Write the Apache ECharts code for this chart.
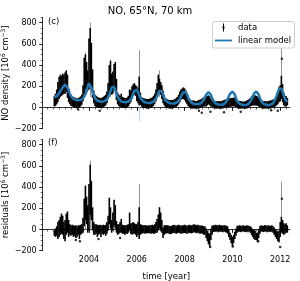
<!DOCTYPE html>
<html><head><meta charset="utf-8">
<script src="https://cdn.jsdelivr.net/npm/echarts@6/dist/echarts.min.js"></script>
<style>html,body{margin:0;padding:0;background:#fff}#c{width:300px;height:281px}</style>
</head><body><div id="c"></div>
<script>
// sampling grid: 2002.55 .. 2012.30, every 0.05 year
const T0 = 2002.55, STEP = 0.05;

// linear model [10^6 cm^-3]
const model = [
  95,100,108,118,132,150,170,190,205,
  215,210,190,160,130,108,92,82,76,72,70,68,68,70,75,85,100,125,160,200,
  228,218,188,150,115,90,75,65,60,57,55,55,56,60,66,76,92,118,155,190,
  208,195,165,130,100,80,66,58,54,51,50,50,52,56,63,76,98,128,155,172,
  168,150,120,95,75,62,54,49,46,44,43,43,45,49,55,65,82,105,132,158,
  165,152,122,92,70,57,49,44,41,39,38,38,40,44,50,62,80,102,126,145,
  150,145,125,95,70,52,42,37,34,32,31,31,32,35,42,55,75,98,120,138,
  145,140,120,90,65,47,37,32,29,27,26,26,28,32,40,55,78,105,128,145,
  150,145,122,90,62,44,35,30,27,25,24,24,26,30,38,53,76,104,130,148,
  152,145,122,90,62,44,35,30,27,25,24,25,27,32,40,55,80,112,145,172,
  188,180,150,110,80,62,52
];

// NO density data: spread of the data cloud (low / high)
const dataLo = [
  10,15,30,50,80,100,110,120,130,
  130,150,90,50,30,15,10,5,0,-5,-10,-5,0,10,25,60,120,170,140,160,
  170,210,170,90,40,15,5,0,-5,-5,-5,0,0,10,20,40,80,130,160,120,
  130,170,160,70,30,15,5,0,0,-5,-5,0,0,10,30,50,80,110,120,110,
  60,40,20,25,10,0,-5,-5,-10,-10,-10,-5,-5,5,15,35,60,100,140,150,
  120,80,40,20,5,0,-5,-10,-10,-10,-10,-5,0,5,15,30,50,70,80,80,
  70,50,30,15,5,-5,-10,-10,-10,-10,-10,-10,-10,-5,0,5,10,10,10,20,
  30,20,10,5,0,-10,-10,-10,-10,-10,-10,-10,-10,-5,0,5,5,5,5,10,
  10,10,10,5,0,-10,-10,-10,-10,-10,-10,-10,-10,-5,5,10,15,20,20,20,
  20,15,10,5,0,-10,-10,-10,-10,-10,-10,-10,-10,-5,0,5,10,20,30,50,
  60,80,50,20,10,10,20
];
const dataHi = [
  110,130,170,240,290,310,300,320,310,
  330,350,310,180,130,110,105,100,95,90,85,90,95,105,120,210,470,500,430,350,
  650,750,610,360,160,120,110,100,95,90,90,95,100,110,120,150,230,400,440,320,
  340,410,430,270,140,120,110,130,100,95,90,90,95,110,170,160,200,220,230,210,
  200,180,290,140,100,90,85,85,80,80,80,85,90,95,110,130,170,230,310,270,
  240,210,160,120,90,80,75,70,70,70,70,75,80,90,100,120,150,170,180,190,
  180,160,125,100,80,70,65,65,65,60,60,65,70,75,80,90,95,100,105,110,
  115,105,85,75,65,60,60,60,60,60,60,60,65,70,75,80,85,85,90,90,
  90,95,90,80,70,65,60,60,60,55,55,60,65,70,80,90,105,110,110,115,
  110,105,90,80,70,65,60,60,60,60,60,65,65,70,75,80,90,110,150,190,
  210,300,220,140,110,105,90
];

// residuals: spread (low / high)
const resLo = [
  -60,-70,-60,-90,-70,-50,-40,-50,-90,
  -110,-50,-30,-70,-50,-60,-50,-70,-60,-80,-70,-50,-90,-50,-40,-30,30,90,50,-30,
  -10,140,90,-10,-50,-50,-40,-70,-50,-40,-70,-40,-50,-40,-60,-40,-10,50,10,-30,
  -10,30,10,-30,-50,-40,-30,-30,-40,-40,-50,-40,-40,-30,-10,-40,-50,-40,-40,-50,
  -70,-50,-90,-50,-40,-35,-35,-40,-35,-35,-35,-35,-40,-35,-40,-40,-30,-30,-10,10,
  -10,-30,-80,-50,-40,-35,-35,-40,-45,-40,-35,-30,-35,-40,-35,-30,-35,-40,-35,-35,
  -30,-35,-40,-35,-30,-35,-35,-30,-25,-30,-35,-30,-35,-40,-35,-40,-50,-50,-80,-110,
  -140,-160,-100,-50,-25,-20,-20,-20,-25,-20,-20,-20,-25,-20,-25,-30,-40,-70,-100,-130,
  -160,-130,-90,-60,-30,-20,-20,-25,-20,-20,-20,-25,-20,-25,-20,-30,-50,-70,-90,-100,
  -100,-120,-80,-40,-20,-20,-25,-20,-20,-25,-20,-20,-25,-20,-30,-50,-70,-90,-110,-120,
  -70,-30,-40,-50,-40,-30,-30
];
const resHi = [
  -10,10,30,70,90,120,150,130,70,
  90,150,170,90,50,40,45,40,35,40,30,40,40,45,50,110,290,410,310,230,
  430,610,460,210,70,50,50,45,40,45,40,40,45,40,45,70,130,300,210,90,
  160,280,230,80,50,50,70,100,45,40,40,40,45,50,160,60,60,70,60,50,
  50,70,210,50,45,40,40,40,40,35,40,40,40,45,40,50,70,100,140,210,
  160,90,20,40,40,40,40,35,30,35,40,45,40,35,40,45,40,35,40,40,
  45,40,35,40,45,40,40,45,50,45,40,45,40,35,40,35,30,30,10,-10,
  -30,-40,10,35,40,40,45,40,40,45,40,40,35,40,40,35,30,0,-30,-50,
  -70,-50,-20,10,35,35,40,35,35,40,35,35,40,35,35,30,20,0,0,-10,
  -30,-30,0,30,40,35,35,40,40,35,40,35,35,40,30,20,0,-10,-20,-10,
  70,120,90,60,50,60,40
];

// long error bars (time, top value)
const dataSpikeT = [2003.85, 2004.05, 2004.90, 2006.10, 2006.95, 2012.05];
const dataSpikeV = [520, 800, 450, 540, 350, 560];
const resSpikeT = [2003.85, 2004.05, 2006.10, 2012.05];
const resSpikeV = [420, 650, 430, 450];
// isolated points
const dataPtT = [2003.55, 2004.45, 2008.60, 2008.72, 2009.08, 2009.65, 2010.35, 2011.62, 2011.90, 2012.07];
const dataPtV = [-20, -30, -30, -50, -40, -45, -40, -25, -30, 460];
const resPtT = [2003.45, 2003.62, 2004.40, 2005.30, 2009.07, 2010.02, 2011.08, 2012.00, 2012.07];
const resPtV = [-100, -110, -90, -80, -165, -160, -110, -165, 290];
// model gap artefact
const modelGapT = [2006.10], modelGapLo = [-130], modelGapHi = [10];

const xMajor = [2004, 2006, 2008, 2010, 2012];
const yMajor = [-200, 0, 200, 400, 600, 800];

const XMIN = 2002.064, XMAX = 2012.41, YMIN = -200, YMAX = 850;
const FONT = 'DejaVu Sans';

const times = model.map((_, i) => +(T0 + i * STEP).toFixed(2));
const xMinor = []; for (let v = 2002.25; v < XMAX; v += 0.25) xMinor.push(+v.toFixed(2));
const yMinor = []; for (let v = -200; v <= 850; v += 50) yMinor.push(v);

function bandRender(params, api) {
  const t = api.value(0), lo = api.value(1), hi = api.value(2);
  const p1 = api.coord([t, hi]), p2 = api.coord([t, lo]);
  const w = api.size([STEP, 0])[0];
  return {type: 'rect', shape: {x: p1[0] - w / 2 - 0.2, y: p1[1], width: w + 0.4, height: Math.max(1, p2[1] - p1[1])},
          style: {fill: '#000'}};
}
function lineRender(color, lw) {
  return function (params, api) {
    const a = api.coord([api.value(0), api.value(1)]), b = api.coord([api.value(0), api.value(2)]);
    const x = Math.round(a[0]) + 0.5;
    return {type: 'line', shape: {x1: x, y1: a[1], x2: x, y2: b[1]}, style: {stroke: color, lineWidth: lw}};
  };
}
const fmtY = v => v < 0 ? '\u2212' + (-v) : String(v);

function xAxes(gi, showLabels) {
  const main = {type: 'value', gridIndex: gi, min: XMIN, max: XMAX, position: 'bottom',
    axisLine: {lineStyle: {color: '#000', width: 0.8}},
    axisTick: {customValues: xMajor, length: 3.5, lineStyle: {color: '#000', width: 0.8}},
    axisLabel: {show: showLabels, customValues: xMajor, formatter: v => String(v), color: '#000', fontFamily: FONT, fontSize: 8, margin: 5},
    splitLine: {show: false}};
  if (showLabels) {
    Object.assign(main, {name: 'time [year]', nameLocation: 'middle', nameGap: 21.5, nameMoveOverlap: false,
      nameTextStyle: {color: '#000', fontFamily: FONT, fontSize: 8.5}});
  }
  const minor = {type: 'value', gridIndex: gi, min: XMIN, max: XMAX, position: 'bottom',
    axisLine: {show: false},
    axisTick: {customValues: xMinor, length: 2, lineStyle: {color: '#000', width: 0.6}},
    axisLabel: {show: false}, splitLine: {show: false}};
  return [main, minor];
}
function yAxes(gi, nameRich) {
  const main = {type: 'value', gridIndex: gi, min: YMIN, max: YMAX, position: 'left',
    axisLine: {show: true, lineStyle: {color: '#000', width: 0.8}},
    axisTick: {show: true, customValues: yMajor, length: 3.5, lineStyle: {color: '#000', width: 0.8}},
    axisLabel: {customValues: yMajor, formatter: fmtY, color: '#000', fontFamily: FONT, fontSize: 8, margin: 6},
    splitLine: {show: false},
    name: nameRich, nameLocation: 'middle', nameGap: 31, nameRotate: 90, nameMoveOverlap: false,
    nameTextStyle: {color: '#000', fontFamily: FONT, fontSize: 8.5,
      rich: {a: {fontFamily: FONT, fontSize: 8.5, color: '#000'},
             s: {fontFamily: FONT, fontSize: 6, color: '#000', padding: [0, 0, 5, 0]}}}};
  const minor = {type: 'value', gridIndex: gi, min: YMIN, max: YMAX, position: 'left',
    axisLine: {show: false},
    axisTick: {show: true, customValues: yMinor, length: 2, lineStyle: {color: '#000', width: 0.6}},
    axisLabel: {show: false}, splitLine: {show: false}};
  return [main, minor];
}

const chart = echarts.init(document.getElementById('c'), null, {renderer: 'canvas'});
chart.setOption({
  animation: false,
  backgroundColor: '#fff',
  title: {text: 'NO, 65°N, 70 km', left: 'center', top: 1,
          textStyle: {fontFamily: FONT, fontSize: 10, fontWeight: 'normal', color: '#000'}},
  grid: [
    {left: 42.7, right: 10, top: 17.4, height: 111.3, outerBoundsMode: 'none', containLabel: false},
    {left: 42.7, right: 10, top: 139.4, height: 111.3, outerBoundsMode: 'none', containLabel: false}
  ],
  xAxis: [...xAxes(0, false), ...xAxes(1, true)],
  yAxis: [
    ...yAxes(0, '{a|NO density [10}{s|6}{a| cm}{s|\u22123}{a|]}'),
    ...yAxes(1, '{a|residuals [10}{s|6}{a| cm}{s|\u22123}{a|]}')
  ],
  series: [
    {type: 'custom', name: 'spikes', xAxisIndex: 0, yAxisIndex: 0, renderItem: lineRender('#777', 0.8),
     data: dataSpikeT.map((t, i) => [t, 100, dataSpikeV[i]]), z: 1, silent: true},
    {type: 'custom', name: 'data', xAxisIndex: 0, yAxisIndex: 0, renderItem: bandRender,
     itemStyle: {color: '#000'}, data: times.map((t, i) => [t, dataLo[i], dataHi[i]]), z: 2, silent: true},
    {type: 'scatter', xAxisIndex: 0, yAxisIndex: 0, symbolSize: 2.5, itemStyle: {color: '#000'},
     data: dataPtT.map((t, i) => [t, dataPtV[i]]), z: 3, silent: true},
    {type: 'custom', xAxisIndex: 0, yAxisIndex: 0, renderItem: lineRender('#9ec8ea', 0.8),
     data: modelGapT.map((t, i) => [t, modelGapLo[i], modelGapHi[i]]), z: 3, silent: true},
    {type: 'line', name: 'linear model', xAxisIndex: 0, yAxisIndex: 0, showSymbol: false,
     lineStyle: {color: '#1f77b4', width: 2.5}, itemStyle: {color: '#1f77b4'},
     data: times.map((t, i) => [t, model[i]]), z: 4, silent: true},

    {type: 'custom', xAxisIndex: 2, yAxisIndex: 2, renderItem: lineRender('#777', 0.8),
     data: resSpikeT.map((t, i) => [t, 0, resSpikeV[i]]), z: 1, silent: true},
    {type: 'custom', xAxisIndex: 2, yAxisIndex: 2, renderItem: bandRender,
     data: times.map((t, i) => [t, resLo[i], resHi[i]]), z: 2, silent: true},
    {type: 'scatter', xAxisIndex: 2, yAxisIndex: 2, symbolSize: 2.5, itemStyle: {color: '#000'},
     data: resPtT.map((t, i) => [t, resPtV[i]]), z: 3, silent: true}
  ],
  graphic: [
    {type: 'text', left: 48, top: 17.5, style: {text: '(c)', fill: '#000', font: '8.5px "DejaVu Sans"'}},
    {type: 'text', left: 48, top: 138.5, style: {text: '(f)', fill: '#000', font: '8.5px "DejaVu Sans"'}},
    {type: 'rect', shape: {x: 212.5, y: 21.5, width: 82, height: 26.5, r: 2},
     style: {fill: 'rgba(255,255,255,0.85)', stroke: '#cccccc', lineWidth: 1}, z: 100},
    {type: 'line', shape: {x1: 223.5, y1: 23.5, x2: 223.5, y2: 31.5}, style: {stroke: '#000', lineWidth: 1}, z: 101},
    {type: 'rect', shape: {x: 222.5, y: 26.5, width: 2, height: 2}, style: {fill: '#000'}, z: 101},
    {type: 'text', x: 238, y: 27.5, style: {text: 'data', fill: '#000', font: '8.5px "DejaVu Sans"', textVerticalAlign: 'middle'}, z: 101},
    {type: 'line', shape: {x1: 215, y1: 40.5, x2: 232, y2: 40.5}, style: {stroke: '#1f77b4', lineWidth: 1.8}, z: 101},
    {type: 'text', x: 238, y: 40.5, style: {text: 'linear model', fill: '#000', font: '8.5px "DejaVu Sans"', textVerticalAlign: 'middle'}, z: 101}
  ]
});
</script>
</body></html>
